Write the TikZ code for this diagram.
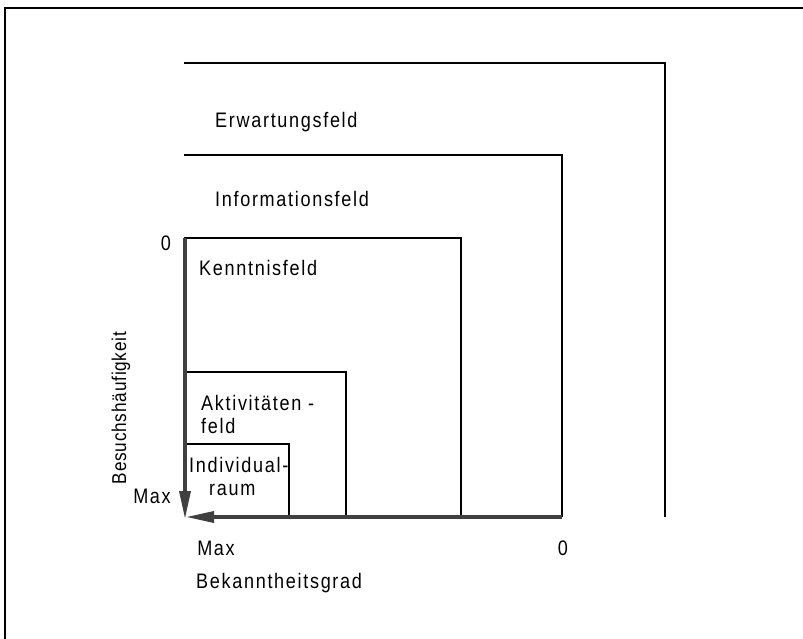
\documentclass[tikz,border=0pt]{standalone}
\usepackage{fontspec}
\setmainfont{Liberation Sans}[FakeStretch=0.86,LetterSpace=8]
\newfontfamily\tightfont{Liberation Sans}[FakeStretch=0.86,LetterSpace=4]
\usetikzlibrary{arrows.meta}
\begin{document}
\begin{tikzpicture}[x=1pt,y=-1pt,
  lbl/.style={font=\fontsize{21}{23}\selectfont, inner sep=0pt, align=left},
  small/.style={font=\tightfont\fontsize{20}{22}\selectfont, inner sep=0pt},
  field/.style={line width=1.1pt, black},
  axis/.style={line width=3.4pt, draw=black!75, -{Triangle[length=28pt,width=11pt]}}]
\useasboundingbox (0,0) rectangle (803,638);
% frame (only top and left visible)
\draw[line width=1.2pt] (805,8) -- (5,8) -- (5,640);
% fields
\draw[field] (184,63) -- (665,63) -- (665,517);
\draw[field] (184,155) -- (562,155) -- (562,517);
\draw[field] (184,238) -- (461,238) -- (461,517);
\draw[field] (184,372) -- (346,372) -- (346,517);
\draw[field] (184,444) -- (289,444) -- (289,517);
% axes
\coordinate (vtop) at (185,238);
\coordinate (vend) at (185,519);
\coordinate (hstart) at (562,517);
\coordinate (hend) at (186,517);
\draw[axis] (vtop) -- (vend);
\draw[axis] (hstart) -- (hend);
% labels
\node[lbl, anchor=west] (erw) at (215,122) {Erwartungsfeld};
\node[lbl, anchor=west] (inf) at (215,199) {Informationsfeld};
\node[lbl, anchor=west] (ken) at (199,268) {Kenntnisfeld};
\node[lbl, anchor=north west] (akt) at (201,395) {Aktivitäten -\\feld};
\node[lbl, anchor=north west] (ind) at (189,457) {Individual-\\\hspace*{20pt}raum};
\node[lbl] (v0) at (166,243) {0};
\node[lbl] (vmax) at (152,496) {Max};
\node[small, rotate=90] (besuch) at (121,408) {Besuchshäufigkeit};
\node[lbl] (hmax) at (216,548) {Max};
\node[lbl] (h0) at (563,548) {0};
\node[lbl, anchor=west] (bek) at (196,583) {Bekanntheitsgrad};
\end{tikzpicture}
\end{document}
